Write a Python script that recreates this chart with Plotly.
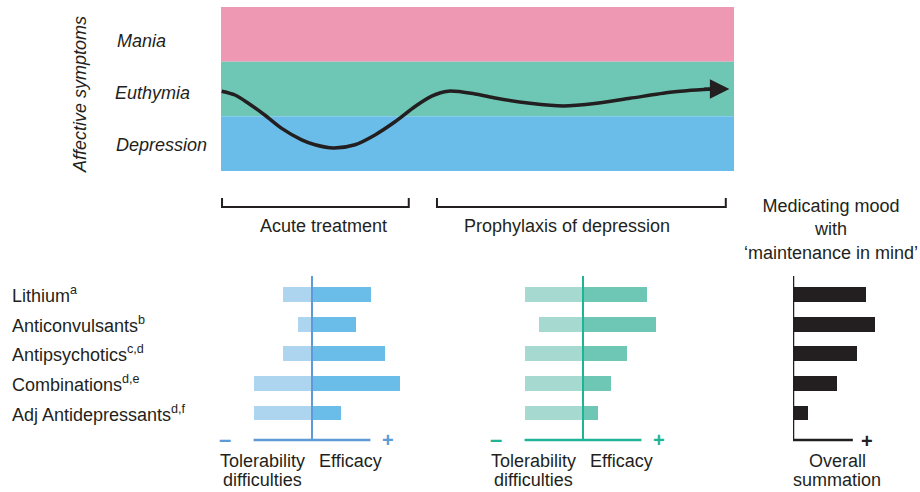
import plotly.graph_objects as go

# ---------------- data ----------------
# top panel: mood course over time (time 0..100, mood: -1 depression, 0 euthymia, +1 mania)
time_pts = [0.14, 2.73, 5.32, 8.58, 11.83, 15.73, 18.32, 21.89, 26.12, 30.02, 33.92, 37.82, 41.07, 44.31,
            49.51, 53.74, 60.23, 66.73, 73.24, 79.73, 87.52, 90.78, 95.9]
mood_pts = [-0.04, -0.11, -0.26, -0.48, -0.72, -0.93, -1.02, -1.08, -1.02, -0.84, -0.60, -0.32, -0.13, -0.04,
            -0.09, -0.17, -0.26, -0.31, -0.26, -0.17, -0.06, -0.03, 0.0]
arrow_tip = (99.1, 0.0)
bands = ["Mania", "Euthymia", "Depression"]
band_colors = ["#EF98B4", "#6EC6B5", "#6BBDE9"]

categories = ["Lithium", "Anticonvulsants", "Antipsychotics", "Combinations", "Adj Antidepressants"]
superscripts = ["a", "b", "c,d", "d,e", "d,f"]

acute_tolerability = [2, 1, 2, 4, 4]
acute_efficacy = [4, 3, 5, 6, 2]
prophy_tolerability = [4, 3, 4, 4, 4]
prophy_efficacy = [4.4, 5, 3, 1.9, 1]
overall = [5.0, 5.6, 4.4, 3.0, 1.0]

TXT = "#231F20"
FONT = "Liberation Sans, Arial, sans-serif"
W, H = 920, 492


def fx(px):
    return px / W


def fy(py):
    return 1 - py / H


def ann(text, x, y, xref="paper", yref="paper", size=18, color=TXT, xanchor="center", yanchor="middle", **kw):
    d = dict(text=text, x=x, y=y, xref=xref, yref=yref, showarrow=False, xanchor=xanchor, yanchor=yanchor,
             font=dict(size=size, color=color, family=FONT))
    d.update(kw)
    return d


fig = go.Figure()

# ---------------- top panel ----------------
fig.add_trace(go.Scatter(x=time_pts, y=mood_pts, mode="lines",
                         line=dict(color=TXT, width=3.5, shape="spline", smoothing=0.8),
                         xaxis="x", yaxis="y", hoverinfo="skip", showlegend=False))
shapes = []
band_ranges = [(0.5, 1.5), (-0.5, 0.5), (-1.5, -0.5)]
for (b0, b1), c in zip(band_ranges, band_colors):
    shapes.append(dict(type="rect", xref="x", yref="y", x0=0, x1=100, y0=b0, y1=b1, fillcolor=c,
                       line=dict(width=0), layer="below"))

annotations = []
annotations.append(dict(x=arrow_tip[0], y=arrow_tip[1], ax=time_pts[-1] - 2, ay=mood_pts[-1], xref="x", yref="y",
                        axref="x", ayref="y", showarrow=True, arrowhead=2, arrowsize=1.3, arrowwidth=3,
                        arrowcolor=TXT, text=""))

band_label_y = [41, 93, 145]
band_label_x = [115, 113, 114]
for name, bx, by in zip(bands, band_label_x, band_label_y):
    annotations.append(ann(f"<i>{name}</i>", fx(bx), fy(by), xanchor="left"))
annotations.append(ann("<i>Affective symptoms</i>", fx(80), fy(95), textangle=-90))

# brackets
for x0, x1 in [(0.2, 36.6), (42.1, 98.4)]:
    shapes.append(dict(type="path", xref="x", yref="paper",
                       path=f"M {x0},{fy(198)} L {x0},{fy(207)} L {x1},{fy(207)} L {x1},{fy(198)}",
                       line=dict(color=TXT, width=2)))
annotations.append(ann("Acute treatment", 19.9, fy(226), xref="x"))
annotations.append(ann("Prophylaxis of depression", 67.5, fy(226), xref="x"))
annotations.append(ann("Medicating mood<br>with<br>‘maintenance in mind’", fx(831), fy(229)))

# ---------------- bottom panels ----------------
U = 14.6
panels = [
    dict(ax="2", tol=acute_tolerability, eff=acute_efficacy, light="#AED5F0", dark="#6BBDE9", line="#5E9BD6", center=312),
    dict(ax="3", tol=prophy_tolerability, eff=prophy_efficacy, light="#A6D9CF", dark="#6EC6B5", line="#1DB596", center=583),
]
layout_axes = {}
ydom = [fy(440), fy(276)]
yrange = [4.91, -0.63]
for p in panels:
    a = p["ax"]
    fig.add_trace(go.Bar(y=categories, x=[-v for v in p["tol"]], orientation="h",
                         marker=dict(color=p["light"], line=dict(width=0)),
                         width=0.5, xaxis="x" + a, yaxis="y" + a, showlegend=False, hoverinfo="skip"))
    fig.add_trace(go.Bar(y=categories, x=p["eff"], orientation="h", marker=dict(color=p["dark"], line=dict(width=0)),
                         width=0.5, xaxis="x" + a, yaxis="y" + a, showlegend=False, hoverinfo="skip"))
    c = p["center"]
    layout_axes["xaxis" + a] = dict(domain=[fx(c - 7 * U), fx(c + 7 * U)], range=[-7, 7], visible=False, anchor="y" + a)
    layout_axes["yaxis" + a] = dict(domain=ydom, range=yrange, visible=False, type="category", categoryorder="array",
                                    categoryarray=categories, anchor="x" + a)
    shapes.append(dict(type="line", xref="x" + a, yref="y" + a + " domain", x0=0, x1=0, y0=0, y1=1,
                       line=dict(color=p["line"], width=2), layer="above"))
    shapes.append(dict(type="line", xref="x" + a, yref="y" + a + " domain", x0=-4, x1=4, y0=0, y1=0,
                       line=dict(color=p["line"], width=2.5), layer="above"))
    annotations.append(ann("<b>–</b>", -5.95, fy(439), xref="x" + a, size=22, color=p["line"]))
    annotations.append(ann("<b>+</b>", 5.2, fy(440), xref="x" + a, size=20, color=p["line"]))
    annotations.append(ann("Tolerability", -3.4, fy(461), xref="x" + a))
    annotations.append(ann("difficulties", -3.4, 0, xref="x" + a, yanchor="bottom"))
    annotations.append(ann("Efficacy", 2.65, fy(461), xref="x" + a))

# overall summation panel
fig.add_trace(go.Bar(y=categories, x=overall, orientation="h", marker=dict(color=TXT, line=dict(width=0)), width=0.5,
                     xaxis="x4", yaxis="y4", showlegend=False, hoverinfo="skip"))
layout_axes["xaxis4"] = dict(domain=[fx(793), fx(793 + 6.5 * U)], range=[0, 6.5], visible=False, anchor="y4")
layout_axes["yaxis4"] = dict(domain=ydom, range=yrange, visible=False, type="category", categoryorder="array",
                             categoryarray=categories, anchor="x4")
shapes.append(dict(type="line", xref="x4", yref="y4 domain", x0=0, x1=0, y0=0, y1=1,
                   line=dict(color=TXT, width=2.5), layer="above"))
shapes.append(dict(type="line", xref="x4", yref="y4 domain", x0=0, x1=4.1, y0=0, y1=0,
                   line=dict(color=TXT, width=2.5), layer="above"))
annotations.append(ann("<b>+</b>", 5.07, fy(441), xref="x4", size=20))
annotations.append(ann("Overall", fx(837), fy(461)))
annotations.append(ann("summation", fx(837), 0, yanchor="bottom"))

# category labels
for cat, sup in zip(categories, superscripts):
    annotations.append(ann(f"{cat}<sup>{sup}</sup>", fx(10), cat, yref="y2", xanchor="left"))

fig.update_layout(
    width=W, height=H, margin=dict(l=0, r=0, t=0, b=0),
    paper_bgcolor="white", plot_bgcolor="rgba(0,0,0,0)",
    barmode="overlay", bargap=0,
    xaxis=dict(domain=[fx(221), fx(734)], range=[0, 100], visible=False, anchor="y"),
    yaxis=dict(domain=[fy(171), fy(7)], range=[-1.5, 1.5], visible=False, anchor="x"),
    shapes=shapes, annotations=annotations, showlegend=False,
    font=dict(family=FONT, color=TXT),
    **layout_axes,
)

fig.write_html("out.html", config={"displayModeBar": False},
               post_script="document.body.style.margin='0';document.body.style.overflow='hidden';")
